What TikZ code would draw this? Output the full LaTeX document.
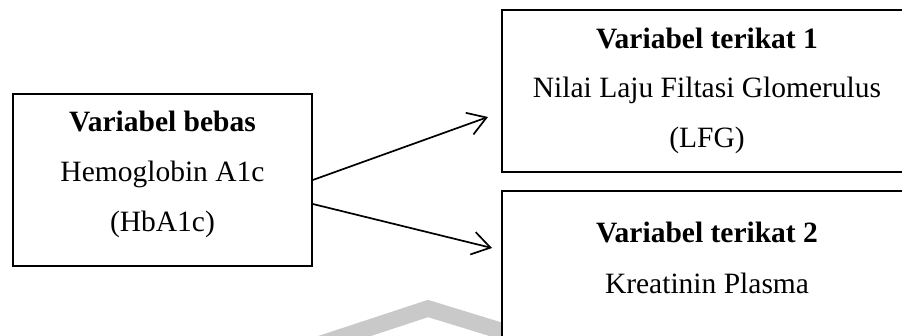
\documentclass[tikz,border=0pt]{standalone}
\usepackage{fontspec}
\setmainfont{Liberation Serif}
\usetikzlibrary{arrows.meta}
\tikzset{
  box/.style={draw=black, line width=1.6pt, fill=white, inner sep=0pt},
  txt/.style={anchor=base, inner sep=0pt, font=\fontsize{29.5}{29.5}\selectfont},
  btxt/.style={txt, font=\fontsize{29.5}{29.5}\selectfont\bfseries},
  arr/.style={line width=1.7pt, -{Straight Barb[length=18pt,width=23pt,line width=1.7pt]}},
  wm/.style={draw=black!21, line width=16.5pt}
}
\begin{document}
\begin{tikzpicture}[x=1pt,y=-1pt]
\useasboundingbox (0,0) rectangle (902,336);
\clip (0,0) rectangle (902,336);
\fill[white] (0,0) rectangle (902,336);
% watermark
\draw[wm] (300,350.7) -- (428,308.5) -- (560,349);
% boxes
\node[box, minimum width=299pt, minimum height=172pt] (L) at (162.5,180) {};
\node[box, minimum width=410pt, minimum height=162pt] (R1) at (707,91) {};
\node[box, minimum width=410pt, minimum height=170pt] (R2) at (707,276) {};
% texts
\node[btxt] (l1) at (162.5,132) {Variabel bebas};
\node[txt] (l2) at (162.5,182) {Hemoglobin A1c};
\node[txt] (l3) at (162.5,232) {(HbA1c)};
\node[btxt] (a1) at (707,49) {Variabel terikat 1};
\node[txt] (a2) at (707,98) {Nilai Laju Filtasi Glomerulus};
\node[txt] (a3) at (707,148) {(LFG)};
\node[btxt] (b1) at (707,243) {Variabel terikat 2};
\node[txt] (b2) at (707,294) {Kreatinin Plasma};
% arrows
\coordinate (t1) at (488,117);
\coordinate (t2) at (492,248);
\draw[arr] (L.east) -- (t1);
\draw[arr] ([yshift=-24pt]L.east) -- (t2);
\end{tikzpicture}
\end{document}
